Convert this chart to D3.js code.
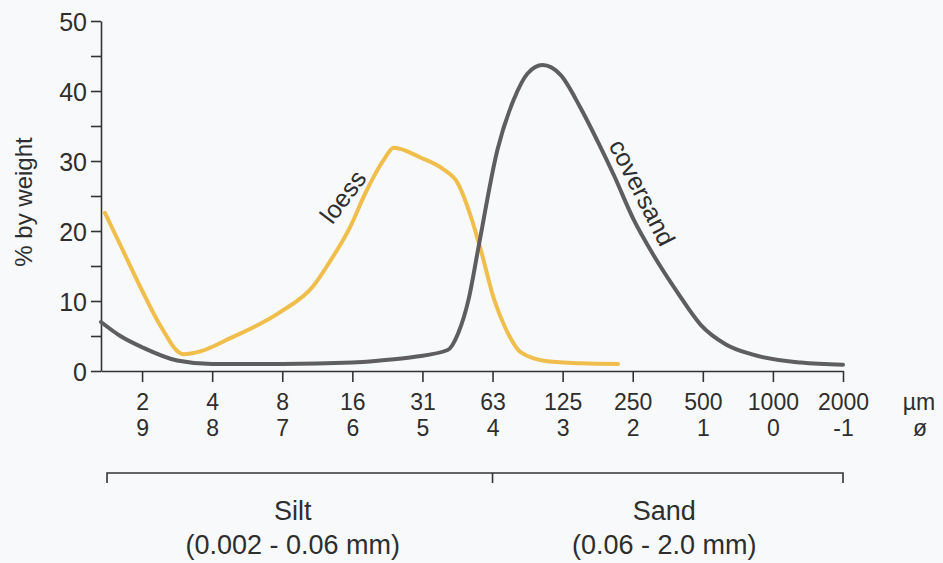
<!DOCTYPE html>
<html>
<head>
<meta charset="utf-8">
<script src="https://cdn.jsdelivr.net/npm/d3@7"></script>
<style>
  body { margin: 0; background: #f8f9fb; }
  svg text { font-family: "Liberation Sans", Arial, sans-serif; fill: #2e2e2e; }
  .axis path, .axis line { stroke: #333; stroke-width: 1.6; }
</style>
</head>
<body>
<div class="chart"></div>
<script>
// grain size: phi units on the x axis, % by weight on the y axis
const phiTicks = [9, 8, 7, 6, 5, 4, 3, 2, 1, 0, -1]
const umLabels = ["2", "4", "8", "16", "31", "63", "125", "250", "500", "1000", "2000"]
const phiLabels = ["9", "8", "7", "6", "5", "4", "3", "2", "1", "0", "-1"]
const yTicks = [0, 5, 10, 15, 20, 25, 30, 35, 40, 45, 50]

const coversandPhi = [9.586, 9.31, 9.0, 8.5, 8.0, 7.0, 6.0, 5.6, 5.13, 4.64, 4.49, 4.34, 4.2, 3.93, 3.7, 3.5, 3.286, 3.03, 2.74, 2.5, 2.27, 1.99, 1.7, 1.36, 1.03, 0.67, 0.31, -0.4, -1.0]
const coversandPct = [7.0, 5.0, 3.4, 1.5, 1.0, 1.0, 1.2, 1.5, 2.0, 3.0, 5.4, 10.3, 17.7, 31.6, 38.7, 42.5, 43.7, 42.3, 37.5, 32.8, 28.0, 21.7, 16.5, 11.2, 6.6, 3.8, 2.4, 1.2, 0.9]

const loessPhi = [9.53, 9.31, 9.0, 8.74, 8.41, 8.17, 7.74, 7.03, 6.56, 6.31, 6.03, 5.81, 5.55, 5.41, 5.03, 4.7, 4.5, 4.31, 4.17, 3.98, 3.81, 3.6, 3.22, 2.74, 2.21]
const loessPct = [22.6, 18.0, 11.5, 6.5, 2.4, 2.8, 4.7, 8.4, 12.1, 15.8, 20.6, 25.5, 30.2, 31.9, 30.5, 28.8, 26.9, 22.1, 17.4, 10.3, 6.0, 2.7, 1.4, 1.1, 1.0]

const fractions = [
  {name: "Silt", range: "(0.002 - 0.06 mm)", from: 9.5, to: 4, mid: 6.85},
  {name: "Sand", range: "(0.06 - 2.0 mm)", from: 4, to: -1, mid: 1.55}
]

const width = 943
const height = 563

const svg = d3.select('.chart').append('svg')
    .attr("width", width)
    .attr("height", height)

const xScale = d3.scaleLinear()
    .domain([9.586, -1])
    .range([101, 843])

const yScale = d3.scaleLinear()
    .domain([0, 50])
    .range([371, 21])

// y axis
const yAxis = d3.axisLeft(yScale)
    .tickValues(yTicks)
    .tickSize(10)
    .tickSizeOuter(0)
    .tickPadding(4)
    .tickFormat(d => d % 10 === 0 ? d : "")

svg.append("g")
    .attr("class", "axis y-axis")
    .attr("transform", `translate(${xScale.range()[0]},0)`)
    .call(yAxis)
    .selectAll("text")
    .style("font-size", "25px")
    .attr("dy", "0.36em")

svg.append("text")
    .attr("transform", `translate(32, ${yScale(25) + 6}) rotate(-90)`)
    .attr("text-anchor", "middle")
    .style("font-size", "24px")
    .text("% by weight")

// x axis, two rows of labels (µm and phi)
const xAxis = d3.axisBottom(xScale)
    .tickValues(phiTicks)
    .tickSize(11)
    .tickSizeOuter(0)
    .tickFormat("")

const xg = svg.append("g")
    .attr("class", "axis x-axis")
    .attr("transform", `translate(0, ${yScale(0)})`)
    .call(xAxis)

xg.selectAll(".tick").append("text")
    .attr("y", 39)
    .attr("text-anchor", "middle")
    .style("font-size", "23px")
    .text((d, i) => umLabels[i])

xg.selectAll(".tick").append("text")
    .attr("y", 65)
    .attr("text-anchor", "middle")
    .style("font-size", "23px")
    .text((d, i) => phiLabels[i])

svg.append("text")
    .attr("x", 919).attr("y", yScale(0) + 39)
    .attr("text-anchor", "middle")
    .style("font-size", "23px")
    .text("µm")

svg.append("text")
    .attr("x", 920).attr("y", yScale(0) + 65)
    .attr("text-anchor", "middle")
    .style("font-size", "23px")
    .text("ø")

// silt / sand bracket
const bracketY = 473
svg.append("path")
    .attr("d", d3.line()([[xScale(9.5), bracketY + 10], [xScale(9.5), bracketY], [xScale(-1), bracketY], [xScale(-1), bracketY + 10]]))
    .attr("fill", "none")
    .attr("stroke", "#333")
    .attr("stroke-width", 1.6)

svg.append("line")
    .attr("x1", xScale(4)).attr("x2", xScale(4))
    .attr("y1", bracketY).attr("y2", bracketY + 10)
    .attr("stroke", "#333")
    .attr("stroke-width", 1.6)

fractions.forEach(f => {
    svg.append("text")
        .attr("x", xScale(f.mid)).attr("y", 520)
        .attr("text-anchor", "middle")
        .style("font-size", "27px")
        .text(f.name)
    svg.append("text")
        .attr("x", xScale(f.mid)).attr("y", 554)
        .attr("text-anchor", "middle")
        .style("font-size", "27px")
        .text(f.range)
})

// curves
const line = d3.line()
    .x(d => xScale(d[0]))
    .y(d => yScale(d[1]))
    .curve(d3.curveMonotoneX)

svg.append("path")
    .datum(loessPhi.map((p, i) => [p, loessPct[i]]))
    .attr("d", line)
    .attr("fill", "none")
    .attr("stroke", "#f0be4c")
    .attr("stroke-width", 4)
    .attr("stroke-linecap", "round")
    .attr("stroke-linejoin", "round")

svg.append("path")
    .datum(coversandPhi.map((p, i) => [p, coversandPct[i]]))
    .attr("d", line)
    .attr("fill", "none")
    .attr("stroke", "#5e5d60")
    .attr("stroke-width", 4)
    .attr("stroke-linecap", "round")
    .attr("stroke-linejoin", "round")

// curve names, centred beside their curves
svg.append("text")
    .attr("transform", `translate(${xScale(6.12)}, ${yScale(24.8)}) rotate(-53)`)
    .attr("text-anchor", "middle")
    .attr("dy", "0.3em")
    .style("font-size", "25px")
    .text("loess")

svg.append("text")
    .attr("transform", `translate(${xScale(1.88)}, ${yScale(25.4)}) rotate(63)`)
    .attr("text-anchor", "middle")
    .attr("dy", "0.3em")
    .style("font-size", "25px")
    .text("coversand")
</script>
</body>
</html>
